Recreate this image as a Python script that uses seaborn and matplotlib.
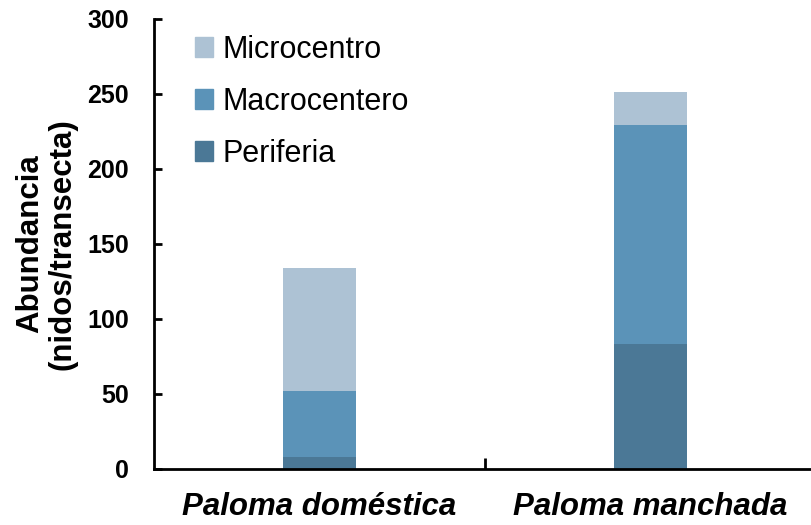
import seaborn as sns
import matplotlib.pyplot as plt
import pandas as pd
from matplotlib.patches import Patch

## values (nidos/transecta)
especies = ['Paloma doméstica', 'Paloma manchada']
periferia = [8, 83]
macrocentro = [44, 146]
microcentro = [82, 22]

col_micro = '#adc2d4'
col_macro = '#5b93b8'
col_peri = '#4b7896'

sns.set_theme(style='white')
plt.rcParams['font.family'] = ['Liberation Sans', 'DejaVu Sans']
plt.rcParams['text.color'] = 'black'
plt.rcParams['axes.labelcolor'] = 'black'
plt.rcParams['xtick.color'] = 'black'
plt.rcParams['ytick.color'] = 'black'

## cumulative heights so the bars can be layered
df = pd.DataFrame({'especie': especies,
                   'Periferia': periferia,
                   'Macrocentro': macrocentro,
                   'Microcentro': microcentro})
df['tot_macro'] = df['Periferia'] + df['Macrocentro']
df['tot_micro'] = df['tot_macro'] + df['Microcentro']

fig = plt.figure(figsize=(8.11, 5.25), dpi=100)
ax = fig.add_axes([0.19, 0.107, 0.816, 0.857])

sns.barplot(data=df, x='especie', y='tot_micro', color=col_micro, width=0.22,
            saturation=1, linewidth=0, ax=ax)
sns.barplot(data=df, x='especie', y='tot_macro', color=col_macro, width=0.22,
            saturation=1, linewidth=0, ax=ax)
sns.barplot(data=df, x='especie', y='Periferia', color=col_peri, width=0.22,
            saturation=1, linewidth=0, ax=ax)

ax.set_xlim(-0.5, 1.5)
ax.set_ylim(0, 300)
ax.set_yticks([0, 50, 100, 150, 200, 250, 300])

for s in ['top', 'right']:
    ax.spines[s].set_visible(False)
for s in ['left', 'bottom']:
    ax.spines[s].set_color('black')
    ax.spines[s].set_linewidth(2)

ax.tick_params(axis='y', direction='in', length=6, width=2, color='black',
               left=True, pad=18, labelsize=18, labelcolor='black')
for lab in ax.get_yticklabels():
    lab.set_fontweight('bold')
ax.tick_params(axis='x', which='major', length=0, pad=17, labelsize=22.5,
               labelcolor='black')
for lab in ax.get_xticklabels():
    lab.set_fontweight('bold')
    lab.set_fontstyle('italic')
ax.set_xticks([0.5], minor=True)
ax.tick_params(axis='x', which='minor', direction='in', length=8, width=2,
               color='black', bottom=True)

ax.set_xlabel('')
ax.set_ylabel('Abundancia\n(nidos/transecta)', fontsize=22.5, fontweight='bold',
              linespacing=1.12)
ax.yaxis.set_label_coords(-0.115, 0.5)

handles = [Patch(color=col_micro, label='Microcentro'),
           Patch(color=col_macro, label='Macrocentero'),
           Patch(color=col_peri, label='Periferia')]
ax.legend(handles=handles, loc='upper left', bbox_to_anchor=(0.062, 0.965),
          frameon=False, fontsize=22, handlelength=0.6, handleheight=0.6,
          handletextpad=0.3, labelspacing=0.72, borderpad=0, borderaxespad=0)

plt.savefig('out.png', dpi=100)
